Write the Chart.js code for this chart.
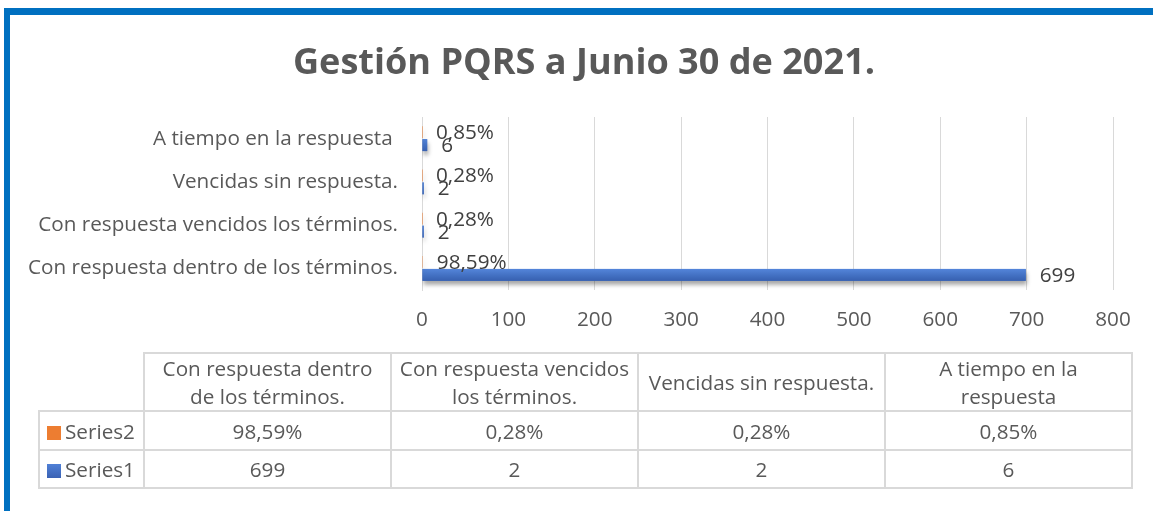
<!DOCTYPE html>
<html>
<head>
<meta charset="utf-8">
<script src="https://cdn.jsdelivr.net/npm/chart.js@4.4.1/dist/chart.umd.min.js"></script>
<style>
html,body{margin:0;padding:0;background:#fff;}
#wrap{position:relative;width:1153px;height:511px;overflow:hidden;background:#fff;}
#frameTop{position:absolute;left:4px;top:8px;width:1149px;height:7px;background:#0070C0;}
#frameLeft{position:absolute;left:4px;top:8px;width:6px;height:503px;background:#0070C0;}
#chart{position:absolute;left:0;top:0;}
#tbl{position:absolute;left:38px;top:352px;border-collapse:collapse;table-layout:fixed;width:1093px;color:#595959;}
#tbl td{border:2px solid #D9D9D9;text-align:center;padding:0 6px;white-space:normal;}
#tbl td.corner{border-top:none;border-left:none;}
#tbl td.rh{text-align:left;padding-left:7px;white-space:nowrap;}
#tbl .key{display:inline-block;width:14px;height:14px;margin-right:4px;vertical-align:-1px;}
</style>
</head>
<body>
<div id="wrap">
  <div id="frameTop"></div>
  <div id="frameLeft"></div>
  <canvas id="chart" width="1153" height="511"></canvas>
  <table id="tbl"></table>
</div>
<script>
// ---- data ----
const chartTitle = 'Gestión PQRS a Junio 30 de 2021.';
const categories = [
  'Con respuesta dentro de los términos.',
  'Con respuesta vencidos los términos.',
  'Vencidas sin respuesta.',
  'A tiempo en la respuesta '
];
const series1Name = 'Series1';
const series2Name = 'Series2';
const series1 = [699, 2, 2, 6];
const series2 = [0.9859, 0.0028, 0.0028, 0.0085];
const xTicks = [0, 100, 200, 300, 400, 500, 600, 700, 800];

// ---- styling helpers ----
const FAMILY = "'Open Sans', 'Liberation Sans', sans-serif";
function fitPx(text, target, weight) {
  const c = document.createElement('canvas').getContext('2d');
  c.font = weight + ' 100px ' + FAMILY;
  return Math.round(100 * target / c.measureText(text).width * 10) / 10;
}
const LABEL_PX = fitPx('Con respuesta dentro de los términos.', 371, '400');
const TITLE_PX = fitPx(chartTitle, 583, '700');
const GRAY = '#595959';
const BLUE = '#4472C4';
const ORANGE = '#ED7D31';
const fmtPct = v => (v * 100).toFixed(2).replace('.', ',') + '%';
const fmtNum = v => String(v);

// ---- table ----
(function buildTable() {
  const t = document.getElementById('tbl');
  t.style.fontFamily = FAMILY;
  t.style.fontSize = LABEL_PX + 'px';
  let h = '<colgroup><col style="width:105px">' + categories.map(() => '<col style="width:247px">').join('') + '</colgroup>';
  h += '<tr style="height:58px;line-height:28px"><td class="corner"></td>' + categories.map(c => '<td>' + c.trim() + '</td>').join('') + '</tr>';
  h += '<tr style="height:39px"><td class="rh"><span class="key" style="background:' + ORANGE + '"></span>' + series2Name + '</td>' + series2.map(v => '<td>' + fmtPct(v) + '</td>').join('') + '</tr>';
  h += '<tr style="height:38px"><td class="rh"><span class="key" style="background:linear-gradient(#4f80d6,#3a62b4)"></span>' + series1Name + '</td>' + series1.map(v => '<td>' + fmtNum(v) + '</td>').join('') + '</tr>';
  t.innerHTML = h;
})();

// ---- plugins ----
const titlePlugin = {
  id: 'centeredTitle',
  afterDraw(chart) {
    const ctx = chart.ctx;
    ctx.save();
    ctx.font = '700 ' + TITLE_PX + 'px ' + FAMILY;
    ctx.fillStyle = GRAY;
    ctx.textAlign = 'center';
    ctx.textBaseline = 'alphabetic';
    ctx.fillText(chartTitle, 584, 74);
    ctx.restore();
  }
};

const barEffects = {
  id: 'barEffects',
  beforeDatasetDraw(chart, args) {
    const ctx = chart.ctx;
    ctx.save();
    ctx.shadowColor = 'rgba(0,0,0,0.35)';
    ctx.shadowBlur = 4;
    ctx.shadowOffsetX = 1;
    ctx.shadowOffsetY = 4;
  },
  afterDatasetDraw(chart, args) {
    const ctx = chart.ctx;
    ctx.restore();
    if (chart.data.datasets[args.index].label !== series1Name) return;
    args.meta.data.forEach(el => {
      const p = el.getProps(['x', 'y', 'base', 'height'], true);
      const top = p.y - p.height / 2;
      const g = ctx.createLinearGradient(0, top, 0, top + p.height);
      g.addColorStop(0, '#5485da');
      g.addColorStop(0.5, '#4472C4');
      g.addColorStop(1, '#3760b0');
      ctx.fillStyle = g;
      ctx.fillRect(Math.min(p.base, p.x), top, Math.abs(p.x - p.base), p.height);
    });
  }
};

const valueLabels = {
  id: 'valueLabels',
  afterDatasetsDraw(chart) {
    const ctx = chart.ctx;
    ctx.save();
    ctx.font = LABEL_PX + 'px ' + FAMILY;
    ctx.fillStyle = '#404040';
    ctx.textAlign = 'left';
    ctx.textBaseline = 'middle';
    chart.data.datasets.forEach((ds, di) => {
      const meta = chart.getDatasetMeta(di);
      meta.data.forEach((el, i) => {
        const p = el.getProps(['x', 'y'], true);
        const txt = ds.label === series2Name ? fmtPct(ds.data[i]) : fmtNum(ds.data[i]);
        ctx.fillText(txt, p.x + 14, p.y + 1);
      });
    });
    ctx.restore();
  }
};

// ---- chart ----
new Chart(document.getElementById('chart'), {
  type: 'bar',
  data: {
    labels: categories,
    datasets: [
      { label: series2Name, data: series2, backgroundColor: ORANGE, borderWidth: 0 },
      { label: series1Name, data: series1, backgroundColor: BLUE, borderWidth: 0 }
    ]
  },
  options: {
    indexAxis: 'y',
    responsive: false,
    animation: false,
    devicePixelRatio: 1,
    categoryPercentage: 0.6,
    barPercentage: 0.92,
    layout: { padding: { left: 0, right: 40, top: 117, bottom: 161 } },
    plugins: {
      legend: { display: false },
      tooltip: { enabled: false },
      title: { display: false }
    },
    scales: {
      x: {
        min: xTicks[0],
        max: xTicks[xTicks.length - 1],
        ticks: { stepSize: xTicks[1] - xTicks[0], color: GRAY, font: { family: FAMILY, size: LABEL_PX }, padding: 18 },
        grid: { color: '#D9D9D9', lineWidth: 1, drawTicks: false },
        border: { display: false },
        afterFit(s) { s.height = 60; }
      },
      y: {
        reverse: true,
        ticks: { color: GRAY, font: { family: FAMILY, size: LABEL_PX }, padding: 24 },
        grid: { display: false, drawTicks: false },
        border: { display: true, color: '#D9D9D9', width: 1 },
        afterFit(s) { s.width = 422; }
      }
    }
  },
  plugins: [barEffects, valueLabels, titlePlugin]
});
</script>
</body>
</html>
